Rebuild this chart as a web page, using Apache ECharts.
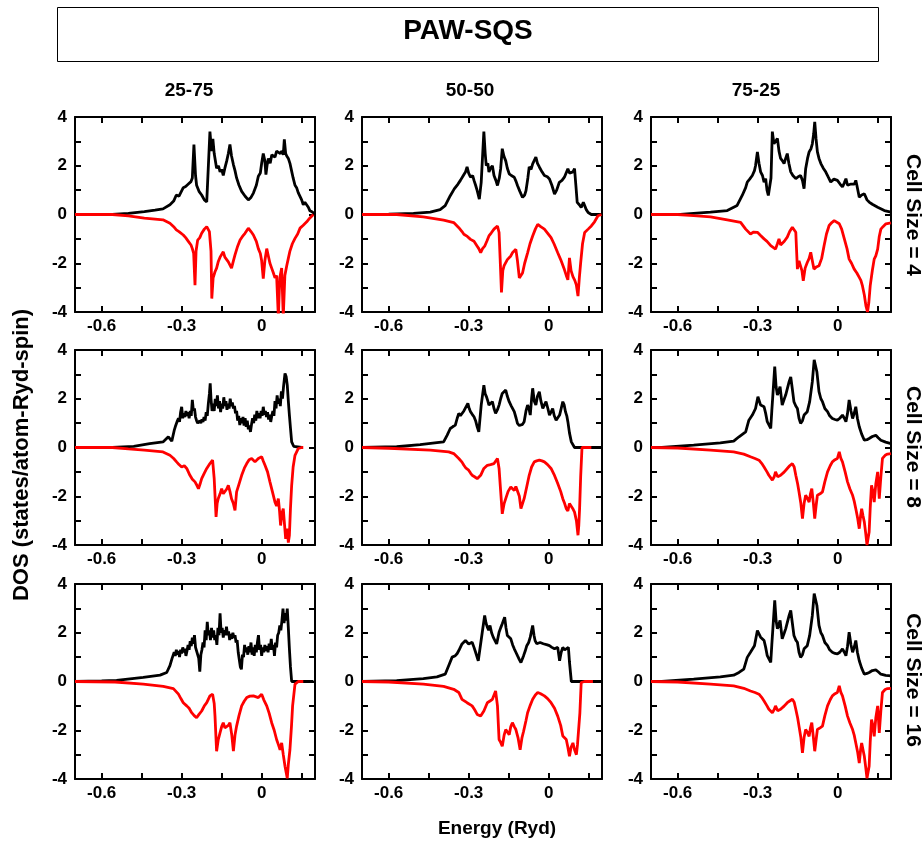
<!DOCTYPE html>
<html>
<head>
<meta charset="utf-8">
<script src="https://cdn.jsdelivr.net/npm/echarts@6/dist/echarts.min.js"></script>
<style>
  html, body { margin: 0; padding: 0; background: #fff; }
  #main { width: 924px; height: 843px; }
</style>
</head>
<body>
<div id="main"></div>
<script>
// column / row labels
var columns = ['25-75', '50-50', '75-25'];
var cellSizes = ['Cell Size = 4', 'Cell Size = 8', 'Cell Size = 16'];
var xTicks = [-0.6, -0.45, -0.3, -0.15, 0, 0.15];
var xLabels = [-0.6, -0.3, 0];
var yTicks = [-3, -2, -1, 0, 1, 2, 3];
var yLabels = [-4, -2, 0, 2, 4];

// DOS [energy, value], spin up (black) / spin down (red)
var up_2575_4 = [[-0.7,0],[-0.56,0],[-0.5,0.05],[-0.44,0.12],[-0.4,0.18],[-0.37,0.23],[-0.344,0.4],[-0.33,0.55],[-0.32,0.8],[-0.31,0.75],[-0.294,1.1],[-0.285,1.15],[-0.275,1.25],[-0.265,1.35],[-0.26,1.5],[-0.254,2.87],[-0.248,1.6],[-0.244,1.2],[-0.235,0.95],[-0.225,0.8],[-0.215,0.6],[-0.206,0.52],[-0.2,0.6],[-0.194,3.4],[-0.188,2.6],[-0.183,3.1],[-0.178,2.5],[-0.169,1.9],[-0.162,2.0],[-0.156,1.75],[-0.15,1.85],[-0.144,1.6],[-0.138,1.9],[-0.131,2.2],[-0.125,2.5],[-0.119,2.87],[-0.113,2.4],[-0.106,2.05],[-0.1,1.8],[-0.094,1.5],[-0.085,1.2],[-0.075,0.95],[-0.062,0.75],[-0.05,0.6],[-0.04,0.7],[-0.031,0.88],[-0.02,1.2],[-0.0125,1.57],[-0.005,1.7],[0,2.1],[0.006,2.5],[0.012,2.2],[0.016,1.64],[0.02,2.0],[0.025,2.3],[0.032,2.1],[0.038,2.45],[0.044,2.5],[0.05,2.35],[0.056,2.6],[0.0625,2.65],[0.07,2.5],[0.076,2.6],[0.081,2.45],[0.085,3.08],[0.09,2.5],[0.094,2.4],[0.1,2.3],[0.106,2.1],[0.112,1.8],[0.118,1.5],[0.125,1.2],[0.131,1.1],[0.137,0.9],[0.144,0.88],[0.15,0.6],[0.156,0.4],[0.162,0.5],[0.169,0.47],[0.175,0.3],[0.181,0.15],[0.19,0.1],[0.2,0.03]];
var dn_2575_4 = [[-0.7,0],[-0.56,0],[-0.5,-0.06],[-0.44,-0.15],[-0.4,-0.19],[-0.37,-0.22],[-0.344,-0.36],[-0.33,-0.5],[-0.32,-0.63],[-0.31,-0.7],[-0.294,-0.84],[-0.285,-0.95],[-0.275,-1.1],[-0.265,-1.25],[-0.26,-1.4],[-0.255,-1.6],[-0.25,-2.9],[-0.246,-1.5],[-0.24,-1.05],[-0.232,-0.95],[-0.225,-0.77],[-0.215,-0.6],[-0.206,-0.5],[-0.2,-0.55],[-0.196,-0.7],[-0.19,-1.5],[-0.187,-3.45],[-0.182,-2.6],[-0.175,-2.35],[-0.169,-2.2],[-0.163,-1.94],[-0.156,-1.75],[-0.15,-1.7],[-0.144,-1.53],[-0.138,-1.75],[-0.131,-1.8],[-0.125,-1.94],[-0.119,-2.0],[-0.113,-2.2],[-0.106,-1.9],[-0.1,-1.66],[-0.09,-1.3],[-0.081,-1.05],[-0.072,-0.9],[-0.0625,-0.77],[-0.05,-0.56],[-0.04,-0.7],[-0.031,-0.84],[-0.02,-1.1],[-0.0125,-1.4],[-0.005,-1.6],[0,-1.9],[0.006,-2.63],[0.012,-1.9],[0.019,-1.4],[0.025,-1.7],[0.031,-2.0],[0.0375,-2.2],[0.044,-2.4],[0.05,-2.6],[0.056,-2.5],[0.0625,-4.2],[0.068,-2.6],[0.075,-2.2],[0.081,-4.2],[0.087,-2.5],[0.094,-2.1],[0.1,-1.8],[0.106,-1.5],[0.115,-1.2],[0.125,-0.98],[0.135,-0.8],[0.144,-0.56],[0.155,-0.45],[0.169,-0.3],[0.18,-0.15],[0.194,0]];

var up_5050_4 = [[-0.7,0],[-0.6,0.01],[-0.507,0.05],[-0.444,0.1],[-0.407,0.2],[-0.388,0.36],[-0.369,0.77],[-0.354,1.05],[-0.34,1.25],[-0.331,1.4],[-0.32,1.6],[-0.312,1.74],[-0.306,1.95],[-0.3,1.7],[-0.293,1.53],[-0.285,1.6],[-0.28,1.4],[-0.274,1.2],[-0.268,0.98],[-0.26,0.63],[-0.253,1.32],[-0.243,3.4],[-0.238,2.5],[-0.234,2.0],[-0.228,2.1],[-0.224,1.74],[-0.218,1.9],[-0.211,2.0],[-0.205,1.6],[-0.198,1.4],[-0.192,1.19],[-0.185,1.5],[-0.18,1.88],[-0.174,2.7],[-0.168,2.4],[-0.161,2.2],[-0.155,1.9],[-0.148,1.67],[-0.14,1.6],[-0.129,1.53],[-0.122,1.35],[-0.117,1.19],[-0.108,0.95],[-0.098,0.7],[-0.09,0.8],[-0.085,0.98],[-0.078,1.5],[-0.073,1.95],[-0.066,1.85],[-0.06,2.08],[-0.054,2.15],[-0.048,2.36],[-0.042,2.1],[-0.035,1.95],[-0.025,1.75],[-0.016,1.6],[-0.005,1.55],[0.003,1.46],[0.012,1.2],[0.022,0.84],[0.03,1.0],[0.04,1.32],[0.05,1.4],[0.059,1.53],[0.065,1.6],[0.072,1.88],[0.078,1.7],[0.085,1.67],[0.091,1.75],[0.097,1.88],[0.102,1.2],[0.107,0.5],[0.115,0.4],[0.122,0.29],[0.13,0.5],[0.135,0.43],[0.141,0.2],[0.148,0.08],[0.16,0],[0.2,0]];
var dn_5050_4 = [[-0.7,0],[-0.57,0],[-0.47,-0.1],[-0.394,-0.23],[-0.356,-0.33],[-0.337,-0.54],[-0.325,-0.7],[-0.318,-0.81],[-0.305,-0.9],[-0.293,-1.02],[-0.28,-1.1],[-0.268,-1.3],[-0.262,-1.4],[-0.255,-1.57],[-0.248,-1.4],[-0.24,-1.3],[-0.232,-1.1],[-0.224,-0.88],[-0.215,-0.75],[-0.205,-0.6],[-0.192,-0.47],[-0.186,-0.74],[-0.182,-1.8],[-0.177,-3.2],[-0.172,-2.3],[-0.167,-2.1],[-0.161,-2.15],[-0.155,-1.85],[-0.148,-1.8],[-0.142,-1.7],[-0.136,-1.57],[-0.129,-1.5],[-0.123,-1.43],[-0.117,-1.9],[-0.11,-2.6],[-0.104,-2.5],[-0.098,-2.4],[-0.09,-2.0],[-0.079,-1.57],[-0.07,-1.2],[-0.06,-0.88],[-0.05,-0.6],[-0.041,-0.4],[-0.03,-0.5],[-0.016,-0.6],[-0.005,-0.75],[0.009,-0.95],[0.02,-1.2],[0.034,-1.57],[0.045,-1.85],[0.059,-2.26],[0.066,-2.5],[0.072,-2.68],[0.078,-1.78],[0.084,-2.3],[0.091,-2.55],[0.098,-2.7],[0.104,-2.9],[0.11,-3.35],[0.115,-2.6],[0.12,-1.98],[0.127,-1.2],[0.135,-0.74],[0.148,-0.6],[0.16,-0.47],[0.172,-0.3],[0.185,-0.05],[0.198,0]];

var up_7525_4 = [[-0.7,0],[-0.59,0],[-0.54,0.05],[-0.477,0.1],[-0.414,0.16],[-0.377,0.37],[-0.358,0.78],[-0.345,1.1],[-0.339,1.33],[-0.33,1.45],[-0.32,1.6],[-0.312,1.8],[-0.308,2.0],[-0.301,2.57],[-0.295,2.1],[-0.289,1.75],[-0.282,1.6],[-0.276,1.33],[-0.27,1.47],[-0.265,1.0],[-0.26,0.78],[-0.254,0.71],[-0.25,1.5],[-0.245,3.4],[-0.239,2.9],[-0.233,2.85],[-0.226,3.12],[-0.22,2.6],[-0.214,2.3],[-0.207,2.2],[-0.201,2.09],[-0.195,2.3],[-0.189,2.5],[-0.183,2.1],[-0.176,1.75],[-0.168,1.6],[-0.157,1.47],[-0.148,1.55],[-0.139,1.6],[-0.132,1.4],[-0.126,1.06],[-0.12,1.88],[-0.113,2.3],[-0.107,2.57],[-0.1,2.7],[-0.095,2.9],[-0.09,3.3],[-0.086,3.8],[-0.081,3.1],[-0.076,2.57],[-0.07,2.3],[-0.063,2.09],[-0.054,1.9],[-0.045,1.75],[-0.036,1.55],[-0.026,1.33],[-0.014,1.45],[-0.001,1.4],[0.009,1.25],[0.018,1.13],[0.025,1.3],[0.031,1.47],[0.037,1.2],[0.043,1.13],[0.05,1.25],[0.056,1.33],[0.063,1.25],[0.068,1.4],[0.072,1.2],[0.081,0.71],[0.09,0.8],[0.1,0.85],[0.11,0.6],[0.118,0.51],[0.13,0.42],[0.15,0.3],[0.175,0.16],[0.2,0.1]];
var dn_7525_4 = [[-0.7,0],[-0.6,0],[-0.54,-0.05],[-0.477,-0.1],[-0.414,-0.22],[-0.364,-0.32],[-0.345,-0.6],[-0.327,-0.8],[-0.315,-0.72],[-0.301,-0.73],[-0.29,-0.85],[-0.276,-1.0],[-0.265,-1.1],[-0.251,-1.28],[-0.242,-1.35],[-0.233,-1.42],[-0.226,-1.2],[-0.22,-1.0],[-0.214,-1.25],[-0.208,-1.28],[-0.2,-1.1],[-0.189,-0.93],[-0.18,-0.7],[-0.17,-0.52],[-0.163,-0.55],[-0.157,-0.73],[-0.154,-1.5],[-0.151,-2.24],[-0.145,-1.9],[-0.139,-1.83],[-0.134,-2.3],[-0.129,-2.72],[-0.122,-2.2],[-0.114,-1.97],[-0.107,-1.8],[-0.101,-1.55],[-0.095,-1.9],[-0.089,-2.24],[-0.08,-2.15],[-0.07,-2.1],[-0.06,-1.8],[-0.051,-1.28],[-0.042,-0.8],[-0.032,-0.45],[-0.022,-0.33],[-0.013,-0.25],[0.006,-0.38],[0.015,-0.6],[0.025,-1.0],[0.035,-1.4],[0.043,-1.83],[0.052,-2.0],[0.062,-2.24],[0.072,-2.4],[0.081,-2.58],[0.087,-2.7],[0.093,-2.93],[0.1,-3.3],[0.106,-3.75],[0.112,-4.0],[0.117,-3.6],[0.122,-2.93],[0.13,-2.3],[0.137,-1.83],[0.143,-1.7],[0.15,-1.42],[0.156,-0.9],[0.162,-0.6],[0.17,-0.5],[0.181,-0.38],[0.2,-0.34]];

var up_2575_8 = [[-0.7,0],[-0.56,0],[-0.48,0.05],[-0.42,0.16],[-0.37,0.23],[-0.35,0.44],[-0.337,0.26],[-0.328,0.7],[-0.324,0.85],[-0.32,0.8],[-0.316,1.1],[-0.312,1.2],[-0.308,1.05],[-0.304,1.45],[-0.3,1.67],[-0.296,1.2],[-0.292,1.4],[-0.288,1.25],[-0.284,1.5],[-0.28,1.3],[-0.276,1.45],[-0.272,1.2],[-0.268,1.5],[-0.264,1.3],[-0.26,1.95],[-0.256,1.5],[-0.252,1.6],[-0.248,1.25],[-0.244,1.1],[-0.24,1.0],[-0.236,0.95],[-0.232,1.1],[-0.228,1.0],[-0.224,1.15],[-0.22,1.05],[-0.216,1.25],[-0.212,1.1],[-0.208,1.45],[-0.204,1.3],[-0.2,1.8],[-0.196,2.2],[-0.193,2.63],[-0.19,2.0],[-0.186,1.5],[-0.182,1.8],[-0.178,1.5],[-0.174,2.0],[-0.17,1.7],[-0.166,2.14],[-0.162,1.6],[-0.158,1.9],[-0.154,1.45],[-0.15,1.8],[-0.146,1.6],[-0.142,2.06],[-0.138,1.7],[-0.134,1.9],[-0.13,1.55],[-0.126,1.8],[-0.122,1.6],[-0.118,2.0],[-0.114,1.7],[-0.11,1.85],[-0.106,1.6],[-0.102,1.7],[-0.098,1.4],[-0.094,1.5],[-0.09,1.1],[-0.086,1.3],[-0.082,0.92],[-0.078,1.2],[-0.074,1.0],[-0.07,1.25],[-0.066,0.9],[-0.062,1.2],[-0.058,0.85],[-0.054,1.1],[-0.05,0.75],[-0.046,0.9],[-0.042,0.64],[-0.038,0.95],[-0.034,1.2],[-0.03,1.0],[-0.026,1.35],[-0.022,1.1],[-0.018,1.5],[-0.014,1.2],[-0.01,1.4],[-0.006,1.2],[-0.002,1.5],[0.002,1.3],[0.006,1.67],[0.01,1.35],[0.014,1.5],[0.018,1.25],[0.022,1.45],[0.026,1.15],[0.03,1.35],[0.034,1.05],[0.038,1.3],[0.042,1.5],[0.046,1.3],[0.05,1.9],[0.054,1.6],[0.058,2.14],[0.062,1.8],[0.066,2.0],[0.07,1.7],[0.074,2.3],[0.078,2.0],[0.082,2.5],[0.0875,3.04],[0.092,2.9],[0.096,2.56],[0.1,1.9],[0.104,1.33],[0.108,0.8],[0.1125,0.23],[0.12,0.05],[0.125,0],[0.15,0]];
var dn_2575_8 = [[-0.7,0],[-0.56,0],[-0.5,-0.06],[-0.44,-0.11],[-0.37,-0.18],[-0.344,-0.32],[-0.33,-0.45],[-0.319,-0.59],[-0.31,-0.7],[-0.3,-0.8],[-0.29,-0.75],[-0.281,-0.86],[-0.275,-1.0],[-0.269,-1.14],[-0.26,-1.3],[-0.25,-1.41],[-0.243,-1.55],[-0.237,-1.69],[-0.231,-1.5],[-0.225,-1.28],[-0.215,-1.05],[-0.206,-0.86],[-0.194,-0.66],[-0.184,-0.52],[-0.178,-1.28],[-0.171,-2.85],[-0.167,-2.3],[-0.163,-2.1],[-0.156,-1.9],[-0.15,-1.69],[-0.144,-1.9],[-0.138,-1.82],[-0.131,-1.7],[-0.125,-1.55],[-0.119,-1.8],[-0.113,-2.1],[-0.106,-2.3],[-0.1,-2.58],[-0.094,-1.82],[-0.085,-1.5],[-0.075,-1.14],[-0.065,-0.85],[-0.056,-0.66],[-0.047,-0.5],[-0.0375,-0.45],[-0.025,-0.59],[-0.0125,-0.45],[0,-0.38],[0.006,-0.55],[0.0125,-0.73],[0.022,-1.0],[0.031,-1.41],[0.04,-1.8],[0.05,-2.24],[0.056,-2.4],[0.0625,-2.1],[0.067,-2.6],[0.071,-3.2],[0.076,-2.7],[0.081,-2.51],[0.086,-3.2],[0.09,-3.75],[0.096,-3.33],[0.1,-3.9],[0.104,-3.6],[0.108,-2.5],[0.1125,-1.55],[0.118,-0.8],[0.125,-0.32],[0.1375,-0.04],[0.15,0],[0.156,0]];

var up_5050_8 = [[-0.7,0],[-0.57,0.03],[-0.482,0.12],[-0.419,0.2],[-0.394,0.23],[-0.381,0.5],[-0.369,0.78],[-0.36,0.85],[-0.35,0.92],[-0.343,1.2],[-0.337,1.4],[-0.331,1.3],[-0.325,1.33],[-0.318,1.5],[-0.312,1.54],[-0.303,1.81],[-0.298,1.6],[-0.293,1.47],[-0.286,1.35],[-0.28,1.26],[-0.274,1.1],[-0.268,0.85],[-0.262,0.64],[-0.253,1.74],[-0.243,2.56],[-0.238,2.2],[-0.233,2.08],[-0.228,1.9],[-0.224,1.74],[-0.218,1.8],[-0.211,1.88],[-0.205,1.6],[-0.199,1.4],[-0.192,1.55],[-0.186,1.74],[-0.18,2.0],[-0.174,2.22],[-0.167,2.3],[-0.161,2.36],[-0.155,2.1],[-0.148,1.88],[-0.14,1.7],[-0.129,1.47],[-0.122,1.2],[-0.117,0.99],[-0.11,0.9],[-0.104,0.85],[-0.098,0.95],[-0.092,1.06],[-0.085,1.5],[-0.079,1.74],[-0.074,1.6],[-0.069,1.33],[-0.064,2.0],[-0.06,2.43],[-0.054,1.9],[-0.048,1.74],[-0.042,2.1],[-0.035,2.29],[-0.029,1.9],[-0.022,1.6],[-0.016,1.75],[-0.01,1.88],[-0.003,1.6],[0.003,1.33],[0.009,1.45],[0.015,1.6],[0.021,1.3],[0.028,1.12],[0.034,1.2],[0.041,1.33],[0.047,1.6],[0.053,1.88],[0.058,1.75],[0.063,1.47],[0.068,1.3],[0.072,1.06],[0.078,0.6],[0.085,0.23],[0.097,0],[0.198,0]];
var dn_5050_8 = [[-0.7,0],[-0.6,-0.03],[-0.444,-0.11],[-0.375,-0.18],[-0.356,-0.25],[-0.337,-0.45],[-0.325,-0.6],[-0.318,-0.73],[-0.31,-0.85],[-0.3,-0.93],[-0.293,-1.05],[-0.287,-1.14],[-0.278,-1.2],[-0.268,-1.28],[-0.262,-1.2],[-0.255,-1.14],[-0.249,-1.0],[-0.243,-0.86],[-0.236,-0.8],[-0.23,-0.73],[-0.218,-0.7],[-0.205,-0.66],[-0.192,-0.45],[-0.186,-0.86],[-0.18,-1.8],[-0.174,-2.72],[-0.167,-2.3],[-0.161,-2.1],[-0.152,-1.8],[-0.142,-1.62],[-0.136,-1.7],[-0.129,-1.76],[-0.123,-1.6],[-0.117,-1.55],[-0.11,-2.0],[-0.104,-2.51],[-0.098,-2.3],[-0.092,-2.1],[-0.082,-1.6],[-0.073,-1.14],[-0.064,-0.8],[-0.054,-0.59],[-0.045,-0.55],[-0.035,-0.52],[-0.025,-0.55],[-0.016,-0.59],[-0.004,-0.7],[0.009,-0.86],[0.02,-1.1],[0.034,-1.48],[0.045,-1.8],[0.053,-2.1],[0.06,-2.3],[0.066,-2.51],[0.072,-2.6],[0.078,-2.3],[0.082,-2.37],[0.09,-2.5],[0.097,-2.65],[0.104,-3.0],[0.11,-3.6],[0.113,-3.2],[0.116,-2.51],[0.12,-1.2],[0.125,0],[0.16,0]];

var up_7525_8 = [[-0.7,0],[-0.66,0],[-0.54,0.1],[-0.44,0.19],[-0.39,0.26],[-0.37,0.44],[-0.345,0.64],[-0.333,1.12],[-0.32,1.33],[-0.308,1.6],[-0.299,2.08],[-0.289,1.74],[-0.276,1.67],[-0.27,1.4],[-0.264,1.06],[-0.251,0.78],[-0.247,1.5],[-0.243,2.15],[-0.236,3.32],[-0.231,2.5],[-0.226,2.15],[-0.216,2.5],[-0.208,1.74],[-0.2,2.0],[-0.195,2.15],[-0.182,2.7],[-0.176,2.9],[-0.17,2.4],[-0.164,1.88],[-0.157,1.7],[-0.151,1.6],[-0.145,1.2],[-0.139,0.99],[-0.132,1.1],[-0.126,1.33],[-0.114,1.47],[-0.105,1.88],[-0.095,2.7],[-0.088,3.6],[-0.078,3.11],[-0.07,2.29],[-0.063,2.0],[-0.057,1.88],[-0.048,1.6],[-0.038,1.47],[-0.03,1.3],[-0.02,1.19],[-0.01,1.15],[-0.001,1.12],[0.008,1.2],[0.018,1.33],[0.025,1.2],[0.031,1.06],[0.037,1.4],[0.043,1.95],[0.05,1.5],[0.056,1.19],[0.062,1.4],[0.068,1.67],[0.074,1.2],[0.081,0.85],[0.09,0.55],[0.1,0.3],[0.11,0.32],[0.118,0.37],[0.13,0.45],[0.143,0.5],[0.152,0.4],[0.162,0.3],[0.18,0.22],[0.2,0.16]];
var dn_7525_8 = [[-0.7,0],[-0.6,-0.02],[-0.477,-0.11],[-0.39,-0.18],[-0.352,-0.27],[-0.327,-0.38],[-0.31,-0.45],[-0.295,-0.52],[-0.285,-0.65],[-0.276,-0.8],[-0.265,-1.0],[-0.258,-1.14],[-0.245,-1.34],[-0.238,-1.2],[-0.233,-1.0],[-0.225,-1.2],[-0.214,-1.14],[-0.2,-1.0],[-0.189,-0.86],[-0.18,-0.75],[-0.17,-0.66],[-0.163,-0.8],[-0.157,-1.14],[-0.15,-1.5],[-0.145,-1.82],[-0.138,-2.3],[-0.132,-2.92],[-0.126,-2.3],[-0.12,-1.96],[-0.113,-2.1],[-0.107,-2.24],[-0.102,-1.9],[-0.097,-1.69],[-0.091,-2.3],[-0.086,-2.92],[-0.081,-2.4],[-0.076,-1.96],[-0.066,-1.9],[-0.057,-1.82],[-0.048,-1.4],[-0.038,-1.0],[-0.028,-0.75],[-0.02,-0.59],[-0.01,-0.5],[-0.001,-0.45],[0.006,-0.18],[0.012,-0.45],[0.018,-0.59],[0.028,-1.0],[0.037,-1.41],[0.046,-1.7],[0.056,-1.96],[0.062,-2.2],[0.068,-2.51],[0.075,-2.9],[0.081,-3.33],[0.086,-2.8],[0.09,-2.51],[0.095,-2.8],[0.1,-3.06],[0.105,-3.5],[0.11,-4.0],[0.118,-3.47],[0.122,-2.5],[0.127,-1.55],[0.132,-1.8],[0.137,-2.24],[0.143,-1.5],[0.15,-1.0],[0.156,-2.1],[0.162,-1.2],[0.168,-0.45],[0.178,-0.32],[0.187,-0.27],[0.2,-0.25]];

var up_2575_16 = [[-0.7,0],[-0.6,0.02],[-0.544,0.05],[-0.444,0.17],[-0.381,0.26],[-0.356,0.37],[-0.344,0.65],[-0.336,0.95],[-0.332,1.0],[-0.328,1.2],[-0.324,1.05],[-0.32,1.3],[-0.316,1.1],[-0.312,1.25],[-0.308,1.0],[-0.304,1.3],[-0.3,1.15],[-0.296,1.4],[-0.292,1.2],[-0.288,1.35],[-0.284,1.05],[-0.28,1.25],[-0.276,1.5],[-0.272,1.3],[-0.268,1.65],[-0.264,1.45],[-0.26,1.8],[-0.256,1.55],[-0.252,1.9],[-0.248,1.4],[-0.244,1.35],[-0.24,1.1],[-0.236,0.95],[-0.232,0.4],[-0.228,1.1],[-0.224,1.3],[-0.22,1.6],[-0.216,1.4],[-0.212,2.1],[-0.208,1.7],[-0.204,2.45],[-0.2,1.9],[-0.196,2.1],[-0.192,1.7],[-0.188,2.2],[-0.184,1.8],[-0.18,2.1],[-0.176,1.7],[-0.172,1.9],[-0.168,1.5],[-0.164,2.2],[-0.16,1.9],[-0.156,2.8],[-0.152,2.0],[-0.148,2.2],[-0.144,1.8],[-0.14,2.1],[-0.136,1.9],[-0.132,2.25],[-0.128,1.9],[-0.124,2.05],[-0.12,1.7],[-0.116,1.95],[-0.112,1.75],[-0.108,2.0],[-0.104,1.8],[-0.1,1.9],[-0.096,1.6],[-0.092,1.7],[-0.088,1.2],[-0.084,0.9],[-0.08,0.6],[-0.076,0.5],[-0.072,1.1],[-0.068,1.0],[-0.064,1.5],[-0.06,1.2],[-0.056,1.4],[-0.052,1.1],[-0.048,1.45],[-0.044,1.2],[-0.04,1.6],[-0.036,1.1],[-0.032,1.4],[-0.028,1.05],[-0.024,1.5],[-0.02,1.2],[-0.016,1.6],[-0.012,1.9],[-0.008,1.3],[-0.004,1.5],[0,1.05],[0.004,1.4],[0.008,1.2],[0.012,1.5],[0.016,1.25],[0.02,1.45],[0.024,1.2],[0.028,1.55],[0.032,1.3],[0.036,1.75],[0.04,1.3],[0.044,1.5],[0.048,1.05],[0.052,1.6],[0.056,1.4],[0.06,1.9],[0.064,2.0],[0.068,2.3],[0.072,2.1],[0.076,2.5],[0.08,2.99],[0.084,2.4],[0.088,2.8],[0.092,2.5],[0.096,2.99],[0.1,2.2],[0.104,1.34],[0.108,0.6],[0.1125,0],[0.194,0]];
var dn_2575_16 = [[-0.7,0],[-0.55,-0.02],[-0.444,-0.11],[-0.369,-0.2],[-0.331,-0.29],[-0.312,-0.52],[-0.303,-0.7],[-0.294,-0.87],[-0.281,-1.0],[-0.272,-1.1],[-0.2625,-1.28],[-0.253,-1.4],[-0.244,-1.49],[-0.235,-1.35],[-0.225,-1.21],[-0.215,-1.0],[-0.206,-0.87],[-0.194,-0.59],[-0.184,-0.52],[-0.178,-0.9],[-0.175,-1.42],[-0.169,-2.86],[-0.163,-2.4],[-0.156,-2.1],[-0.15,-1.85],[-0.144,-1.69],[-0.138,-1.9],[-0.131,-1.97],[-0.125,-1.8],[-0.119,-1.69],[-0.112,-2.2],[-0.106,-2.86],[-0.1,-2.2],[-0.094,-1.83],[-0.085,-1.4],[-0.075,-1.0],[-0.065,-0.8],[-0.056,-0.66],[-0.044,-0.6],[-0.031,-0.59],[-0.0125,-0.66],[0,-0.52],[0.008,-0.75],[0.019,-1.0],[0.028,-1.3],[0.0375,-1.69],[0.047,-2.0],[0.056,-2.38],[0.063,-2.6],[0.069,-2.8],[0.075,-2.52],[0.081,-3.0],[0.0875,-3.48],[0.096,-3.97],[0.1,-3.4],[0.106,-2.8],[0.112,-1.8],[0.116,-1.0],[0.125,-0.11],[0.1375,0],[0.156,0]];

var up_5050_16 = [[-0.7,0],[-0.57,0.04],[-0.47,0.12],[-0.419,0.19],[-0.388,0.3],[-0.375,0.65],[-0.362,1.0],[-0.35,1.06],[-0.343,1.15],[-0.337,1.27],[-0.325,1.54],[-0.318,1.6],[-0.312,1.68],[-0.3,1.54],[-0.293,1.6],[-0.287,1.61],[-0.28,1.4],[-0.274,1.2],[-0.264,0.85],[-0.258,0.78],[-0.249,2.02],[-0.24,2.71],[-0.235,2.4],[-0.23,2.23],[-0.225,2.1],[-0.22,2.3],[-0.214,2.0],[-0.208,1.82],[-0.2,1.65],[-0.195,1.54],[-0.186,2.02],[-0.18,2.2],[-0.174,2.37],[-0.165,2.64],[-0.16,2.2],[-0.155,1.89],[-0.148,1.85],[-0.142,1.75],[-0.135,1.5],[-0.129,1.34],[-0.123,1.2],[-0.117,1.06],[-0.11,0.9],[-0.104,0.78],[-0.094,1.06],[-0.088,1.25],[-0.082,1.47],[-0.075,1.6],[-0.069,1.82],[-0.064,1.9],[-0.06,2.3],[-0.055,1.9],[-0.051,1.68],[-0.045,1.55],[-0.039,1.47],[-0.032,1.6],[-0.026,1.68],[-0.02,1.55],[-0.014,1.47],[-0.005,1.5],[0.003,1.47],[0.012,1.4],[0.022,1.34],[0.028,1.38],[0.034,1.4],[0.041,0.85],[0.047,1.2],[0.053,1.4],[0.06,1.3],[0.066,1.27],[0.074,1.4],[0.078,0.8],[0.085,0],[0.2,0]];
var dn_5050_16 = [[-0.7,0],[-0.6,-0.02],[-0.47,-0.11],[-0.394,-0.2],[-0.356,-0.32],[-0.337,-0.45],[-0.325,-0.73],[-0.306,-0.87],[-0.287,-1.0],[-0.278,-1.15],[-0.268,-1.35],[-0.255,-1.42],[-0.243,-1.21],[-0.23,-0.87],[-0.22,-0.8],[-0.211,-0.73],[-0.199,-0.39],[-0.192,-1.0],[-0.186,-2.38],[-0.18,-2.5],[-0.174,-2.66],[-0.167,-2.2],[-0.161,-1.97],[-0.155,-2.0],[-0.148,-2.18],[-0.142,-1.85],[-0.136,-1.69],[-0.129,-1.85],[-0.123,-1.97],[-0.115,-2.3],[-0.107,-2.8],[-0.1,-2.3],[-0.094,-2.04],[-0.085,-1.6],[-0.079,-1.28],[-0.07,-1.0],[-0.06,-0.73],[-0.05,-0.55],[-0.041,-0.45],[-0.03,-0.5],[-0.016,-0.59],[-0.004,-0.7],[0.009,-0.87],[0.022,-1.1],[0.034,-1.42],[0.045,-1.8],[0.053,-2.24],[0.06,-2.3],[0.066,-2.38],[0.072,-2.7],[0.078,-3.07],[0.084,-2.7],[0.091,-2.52],[0.097,-2.8],[0.104,-3.0],[0.108,-2.6],[0.112,-2.52],[0.117,-1.3],[0.122,-0.04],[0.135,0],[0.166,0]];

var up_7525_16 = [[-0.7,0],[-0.66,0],[-0.54,0.1],[-0.44,0.19],[-0.39,0.26],[-0.37,0.37],[-0.352,0.51],[-0.339,0.99],[-0.327,1.2],[-0.312,1.47],[-0.301,2.09],[-0.289,1.82],[-0.276,1.68],[-0.27,1.4],[-0.264,1.06],[-0.251,0.78],[-0.247,1.5],[-0.243,2.16],[-0.236,3.33],[-0.231,2.5],[-0.226,2.16],[-0.216,2.51],[-0.208,1.75],[-0.2,2.0],[-0.195,2.16],[-0.182,2.71],[-0.176,2.92],[-0.17,2.4],[-0.164,1.89],[-0.157,1.7],[-0.151,1.61],[-0.145,1.2],[-0.139,0.99],[-0.132,1.1],[-0.126,1.34],[-0.114,1.47],[-0.105,1.89],[-0.095,2.71],[-0.088,3.61],[-0.078,3.13],[-0.07,2.3],[-0.063,2.0],[-0.057,1.89],[-0.048,1.6],[-0.038,1.47],[-0.03,1.3],[-0.02,1.2],[-0.01,1.15],[-0.001,1.13],[0.008,1.2],[0.018,1.34],[0.025,1.2],[0.031,1.06],[0.037,1.45],[0.043,2.02],[0.05,1.5],[0.056,1.2],[0.062,1.4],[0.068,1.68],[0.074,1.2],[0.081,0.85],[0.09,0.55],[0.1,0.3],[0.11,0.33],[0.118,0.37],[0.13,0.45],[0.143,0.48],[0.152,0.4],[0.162,0.3],[0.18,0.25],[0.2,0.23]];
var dn_7525_16 = [[-0.7,0],[-0.6,-0.02],[-0.477,-0.11],[-0.39,-0.18],[-0.352,-0.28],[-0.327,-0.39],[-0.31,-0.45],[-0.295,-0.52],[-0.285,-0.65],[-0.276,-0.8],[-0.265,-1.0],[-0.258,-1.14],[-0.245,-1.28],[-0.238,-1.15],[-0.233,-1.0],[-0.225,-1.2],[-0.214,-1.14],[-0.2,-1.0],[-0.189,-0.87],[-0.18,-0.8],[-0.17,-0.73],[-0.163,-0.85],[-0.157,-1.14],[-0.15,-1.5],[-0.145,-1.83],[-0.138,-2.3],[-0.132,-2.93],[-0.126,-2.3],[-0.12,-1.97],[-0.113,-2.1],[-0.107,-2.25],[-0.102,-1.9],[-0.097,-1.69],[-0.091,-2.3],[-0.086,-2.86],[-0.081,-2.4],[-0.076,-1.97],[-0.066,-1.9],[-0.057,-1.83],[-0.048,-1.4],[-0.038,-1.0],[-0.028,-0.75],[-0.02,-0.59],[-0.01,-0.5],[-0.001,-0.45],[0.006,-0.18],[0.012,-0.45],[0.018,-0.59],[0.028,-1.0],[0.037,-1.42],[0.046,-1.7],[0.056,-1.97],[0.062,-2.2],[0.068,-2.52],[0.075,-2.9],[0.081,-3.35],[0.086,-2.8],[0.09,-2.52],[0.095,-2.8],[0.1,-3.07],[0.105,-3.5],[0.11,-3.97],[0.118,-3.48],[0.122,-2.5],[0.127,-1.56],[0.132,-1.8],[0.137,-2.25],[0.143,-1.5],[0.15,-1.0],[0.156,-2.11],[0.162,-1.2],[0.168,-0.45],[0.178,-0.33],[0.187,-0.29],[0.2,-0.28]];

var panels = [
  [up_2575_4, dn_2575_4], [up_5050_4, dn_5050_4], [up_7525_4, dn_7525_4],
  [up_2575_8, dn_2575_8], [up_5050_8, dn_5050_8], [up_7525_8, dn_7525_8],
  [up_2575_16, dn_2575_16], [up_5050_16, dn_5050_16], [up_7525_16, dn_7525_16]
];

var chart = echarts.init(document.getElementById('main'), null, { renderer: 'canvas' });

var FONT = "'Liberation Sans', Arial, sans-serif";
var colLeft = [75, 362, 651];
var rowTop = [117, 350, 584];
var W = 240, H = 195;

var axisLine = { show: true, onZero: false, lineStyle: { color: '#000', width: 2 } };
var tickStyle = { color: '#000', width: 2 };

var grids = [], xAxes = [], yAxes = [], series = [];

panels.forEach(function (p, i) {
  var r = Math.floor(i / 3), c = i % 3;
  grids.push({ left: colLeft[c], top: rowTop[r], width: W, height: H, containLabel: false });

  xAxes.push({
    gridIndex: i, type: 'value', min: -0.7, max: 0.2, position: 'bottom',
    axisLine: axisLine,
    axisTick: { inside: true, length: 6, lineStyle: tickStyle, customValues: xTicks },
    axisLabel: { customValues: xLabels, color: '#000', fontFamily: FONT, fontWeight: 'bold', fontSize: 17, margin: 6 },
    splitLine: { show: false }
  });
  xAxes.push({
    gridIndex: i, type: 'value', min: -0.7, max: 0.2, position: 'top',
    axisLine: axisLine,
    axisTick: { inside: true, length: 6, lineStyle: tickStyle, customValues: xTicks },
    axisLabel: { show: false },
    splitLine: { show: false }
  });
  yAxes.push({
    gridIndex: i, type: 'value', min: -4, max: 4, interval: 1, position: 'left',
    axisLine: axisLine,
    axisTick: { inside: true, length: 6, lineStyle: tickStyle, customValues: yTicks },
    axisLabel: { customValues: yLabels, color: '#000', fontFamily: FONT, fontWeight: 'bold', fontSize: 17, margin: 8 },
    splitLine: { show: false }
  });
  yAxes.push({
    gridIndex: i, type: 'value', min: -4, max: 4, interval: 1, position: 'right',
    axisLine: axisLine,
    axisTick: { inside: true, length: 6, lineStyle: tickStyle, customValues: yTicks },
    axisLabel: { show: false },
    splitLine: { show: false }
  });

  series.push({
    type: 'line', xAxisIndex: 2 * i, yAxisIndex: 2 * i, data: p[0],
    showSymbol: false, symbol: 'none', clip: true,
    lineStyle: { color: '#000', width: 2.8 }, z: 2
  });
  series.push({
    type: 'line', xAxisIndex: 2 * i, yAxisIndex: 2 * i, data: p[1],
    showSymbol: false, symbol: 'none', clip: true,
    lineStyle: { color: '#ff0000', width: 2.8 }, z: 3
  });
});

function txt(text, x, y, size, rot) {
  return {
    type: 'text', x: x, y: y, rotation: rot || 0,
    style: {
      text: text, fill: '#000', font: 'bold ' + size + 'px ' + FONT,
      textAlign: 'center', textVerticalAlign: 'middle', align: 'center', verticalAlign: 'middle'
    }
  };
}

var graphics = [
  { type: 'rect', shape: { x: 57.5, y: 7.5, width: 821, height: 54 }, style: { fill: '#fff', stroke: '#000', lineWidth: 1 } },
  txt('PAW-SQS', 468, 31, 28),
  txt(columns[0], 189, 91, 19),
  txt(columns[1], 470, 91, 19),
  txt(columns[2], 756, 91, 19),
  txt('DOS (states/atom-Ryd-spin)', 22, 455, 22, Math.PI / 2),
  txt(cellSizes[0], 913, 215, 21, -Math.PI / 2),
  txt(cellSizes[1], 913, 447, 21, -Math.PI / 2),
  txt(cellSizes[2], 913, 680, 21, -Math.PI / 2),
  txt('Energy (Ryd)', 497, 829, 19)
];

chart.setOption({
  animation: false,
  backgroundColor: '#fff',
  grid: grids,
  xAxis: xAxes,
  yAxis: yAxes,
  series: series,
  graphic: graphics
});
</script>
</body>
</html>
